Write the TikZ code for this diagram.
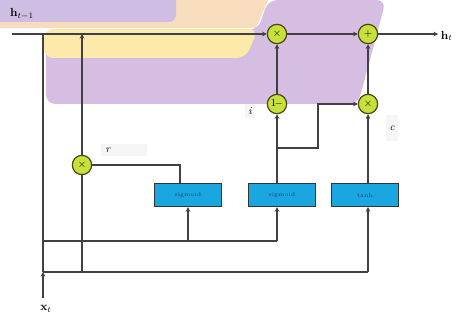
\documentclass[tikz,border=0pt]{standalone}
\usepackage{amsmath}
\usepackage{tikz}
\usepackage{xcolor}
\usetikzlibrary{arrows.meta,calc,positioning}

\definecolor{lavender}{RGB}{214,190,226}
\definecolor{lilac}{RGB}{206,190,228}
\definecolor{peach}{RGB}{248,220,190}
\definecolor{cream}{RGB}{252,234,170}
\definecolor{gatefill}{RGB}{200,224,60}
\definecolor{gatedraw}{RGB}{70,70,20}
\definecolor{boxfill}{RGB}{26,167,224}
\definecolor{boxtext}{RGB}{30,60,110}
\definecolor{wire}{RGB}{64,64,70}

\tikzset{
  gate/.style={circle, draw=gatedraw, line width=1pt, fill=gatefill,
    minimum size=0.58cm, inner sep=0pt, font=\small\bfseries},
  actbox/.style={rectangle, draw=black!80, line width=0.8pt, fill=boxfill,
    minimum width=2.0cm, minimum height=0.7cm, inner sep=0pt,
    font=\tiny, text=boxtext},
  wirearrow/.style={-{Stealth[length=4pt,width=4pt]}},
  gatelabel/.style={fill=gray!8, inner sep=3pt, font=\small\itshape}
}

\begin{document}
\begin{tikzpicture}[x=0.03cm, y=-0.03cm, line width=1pt, draw=wire]
  \useasboundingbox (0,0) rectangle (461,320);

  % ---------- background bands ----------
  \fill[peach] (0,0) -- (268,0) -- (256,28) -- (0,28) -- cycle;
  \fill[lilac, rounded corners=6] (-10,-10) -- (176,-10) -- (176,22) -- (-10,22) -- cycle;
  \fill[lavender, rounded corners=8] (268,0) -- (386,0) -- (358,104) -- (46,104)
    -- (46,30) -- (258,30) -- cycle;
  \fill[cream, rounded corners=8] (44,29) -- (258,29) -- (246,58) -- (44,58) -- cycle;

  % ---------- gates ----------
  \node[gate] (mulH) at (277,34) {$\times$};
  \node[gate] (addH) at (368,34) {$+$};
  \node[gate] (oneMinus) at (277,104) {$1\!-$};
  \node[gate] (mulC) at (368,104) {$\times$};
  \node[gate] (mulR) at (82,165) {$\times$};

  \node[actbox] (sigR) at (188,195) {sigmoid};
  \node[actbox] (sigZ) at (282,195) {sigmoid};
  \node[actbox] (tanhC) at (365,195) {tanh};

  % ---------- labels ----------
  \node (hPrev) at (22,14) {$\mathbf{h}_{t-1}$};
  \node (xIn) at (46,309) {$\mathbf{x}_t$};
  \node[gatelabel, minimum width=1.4cm, text width=1.1cm] (rLab) at (124,150) {r};
  \node[gatelabel] (zLab) at (250,111) {i};
  \node[gatelabel, minimum height=0.8cm] (cLab) at (392,128) {c};

  % ---------- free ends and junctions ----------
  \coordinate (hStart) at (12,34);
  \coordinate (hOut) at (438,34);
  \coordinate (xBot) at (43,298);
  \coordinate (xJoin) at (43,272);
  \coordinate (xTop) at (43,34);
  \coordinate (rTop) at (82,34);
  \coordinate (rBend) at (180,165);
  \coordinate (busA) at (43,241);
  \coordinate (busB) at (43,272);
  \coordinate (zBend) at (277,148);
  \coordinate (cBend) at (318,148);

  % ---------- state line ----------
  \draw[wirearrow] (hStart) -- (mulH);
  \draw[wirearrow] (mulH) -- (addH);
  \draw[wirearrow] (addH) -- (hOut);
  \node[anchor=west, inner sep=1pt] (hNext) at (439,36) {$\mathbf{h}_t$};

  % ---------- input line and buses ----------
  \draw[wirearrow] (xBot) -- (xJoin);
  \draw (xJoin) -- (xTop);
  \draw (busA) -- (oneMinus |- busA);
  \draw[wirearrow] (oneMinus |- busA) -- (oneMinus |- sigZ.south);
  \draw[wirearrow] (sigR.south |- busA) -- (sigR.south);
  \draw (busB) -- (mulC |- busB);
  \draw[wirearrow] (mulC |- busB) -- (mulC |- tanhC.south);

  % ---------- reset branch ----------
  \draw (mulR |- busB) -- (mulR);
  \draw[wirearrow] (mulR) -- (rTop);
  \draw (mulR) -- (rBend) -- (rBend |- sigR.north);

  % ---------- update branch ----------
  \draw[wirearrow] (oneMinus |- sigZ.north) -- (oneMinus);
  \draw[wirearrow] (oneMinus) -- (mulH);
  \draw[wirearrow] (zBend) -- (cBend) -- (cBend |- mulC) -- (mulC);
  \draw[wirearrow] (mulC |- tanhC.north) -- (mulC);
  \draw[wirearrow] (mulC) -- (addH);
\end{tikzpicture}
\end{document}
